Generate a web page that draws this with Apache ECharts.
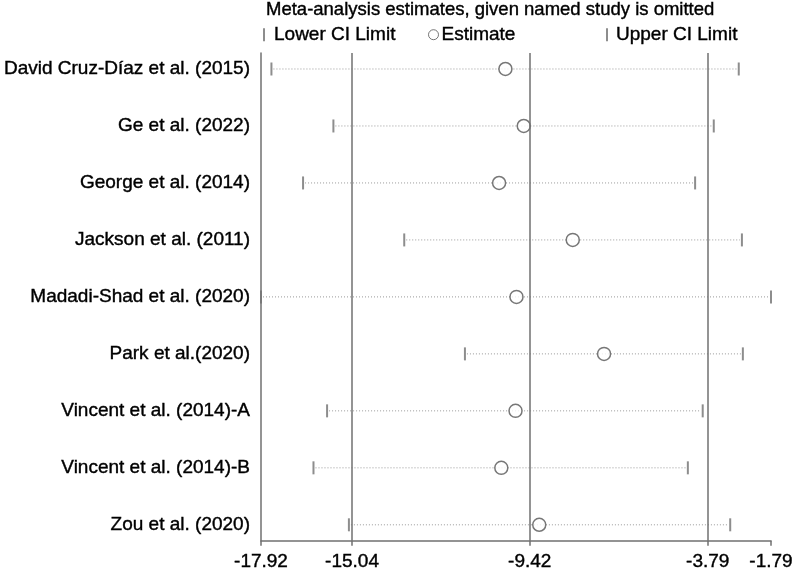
<!DOCTYPE html>
<html><head><meta charset="utf-8">
<script src="https://cdn.jsdelivr.net/npm/echarts@6/dist/echarts.min.js"></script>
<style>html,body{margin:0;padding:0;background:#fff}#c{width:796px;height:571px}</style>
</head><body><div id="c"></div>
<script>
const studies = [
  'David Cruz-Díaz et al. (2015)',
  'Ge et al. (2022)',
  'George et al. (2014)',
  'Jackson et al. (2011)',
  'Madadi-Shad et al. (2020)',
  'Park et al.(2020)',
  'Vincent et al. (2014)-A',
  'Vincent et al. (2014)-B',
  'Zou et al. (2020)'
];
const lowerCI   = [-17.59, -15.63, -16.59, -13.39, -17.92, -11.47, -15.83, -16.26, -15.14];
const estimates = [-10.19,  -9.61, -10.39,  -8.06,  -9.84,  -7.07,  -9.87, -10.32,  -9.12];
const upperCI   = [ -2.81,  -3.60,  -4.19,  -2.71,  -1.79,  -2.68,  -3.95,  -4.42,  -3.08];
const overallLines = [-15.04, -9.42, -3.79];
const xTicks = [-17.92, -15.04, -9.42, -3.79, -1.79];
const titleText = 'Meta-analysis estimates, given named study is omitted';
const legendNames = ['Lower CI Limit', 'Estimate', 'Upper CI Limit'];

const FONT = '"Liberation Sans", Arial, sans-serif';
const GRAY = '#707070';
const pad = 16 / 57;
const rowIdx = studies.map((s, i) => i);

const chart = echarts.init(document.getElementById('c'), null, {renderer: 'canvas'});
const heavy = {textBorderColor: '#000', textBorderWidth: 0.4};
const txt = Object.assign({fontFamily: FONT, fontSize: 19, color: '#000'}, heavy);

chart.setOption({
  animation: false,
  backgroundColor: '#fff',
  title: {text: titleText, left: 266, top: 0, padding: 0,
    textStyle: Object.assign({}, txt, {fontWeight: 'normal', fontSize: 18.5})},
  legend: [
    {data: [legendNames[0]], left: 263, top: 25, padding: 0, icon: 'rect', itemWidth: 2, itemHeight: 13,
     textStyle: Object.assign({}, txt, {padding: [0, 0, 0, 4]}), selectedMode: false},
    {data: [{name: legendNames[1], icon: 'circle', itemStyle: {color: '#fff', borderColor: '#555', borderWidth: 1}}],
     left: 428, top: 25, padding: 0, itemWidth: 10, itemHeight: 10, itemGap: 0,
     textStyle: Object.assign({}, txt, {padding: [0, 0, 0, -2]}), selectedMode: false},
    {data: [legendNames[2]], left: 606, top: 25, padding: 0, icon: 'rect', itemWidth: 2, itemHeight: 13,
     textStyle: Object.assign({}, txt, {padding: [0, 0, 0, 3]}), selectedMode: false}
  ],
  grid: {left: 261, right: 25, top: 53, bottom: 30, containLabel: false},
  xAxis: {
    type: 'value', position: 'bottom', min: xTicks[0], max: xTicks[xTicks.length - 1],
    axisLine: {show: true, onZero: false, lineStyle: {color: GRAY, width: 1.5}},
    axisTick: {show: true, customValues: xTicks, length: 5, lineStyle: {color: GRAY, width: 1.5}},
    axisLabel: Object.assign({show: true, customValues: xTicks, margin: 11, formatter: v => v.toFixed(2),
      fontFamily: FONT, fontSize: 19, color: '#000'}, heavy),
    splitLine: {show: false}
  },
  yAxis: {
    type: 'value', position: 'left', inverse: true, min: -pad, max: studies.length - 1 + pad,
    axisLine: {show: true, onZero: false, lineStyle: {color: GRAY, width: 1.5}},
    axisTick: {show: false},
    axisLabel: Object.assign({show: true, customValues: rowIdx, margin: 11, formatter: v => studies[Math.round(v)],
      fontFamily: FONT, fontSize: 19, color: '#000'}, heavy),
    splitLine: {show: false}
  },
  series: [
    {
      type: 'custom', name: 'CI', clip: false, z: 1,
      data: studies.map((s, i) => [lowerCI[i], i, upperCI[i]]),
      encode: {x: [0, 2], y: 1},
      renderItem: function (params, api) {
        const a = api.coord([api.value(0), api.value(1)]);
        const b = api.coord([api.value(2), api.value(1)]);
        return {type: 'line', shape: {x1: a[0] + 2, y1: a[1], x2: b[0] - 2, y2: b[1]},
          style: {stroke: '#9a9a9a', lineWidth: 1, lineDash: [1, 2]}};
      },
      markLine: {
        silent: true, symbol: 'none', label: {show: false},
        lineStyle: {color: GRAY, width: 1.5, type: 'solid'},
        data: overallLines.map(v => ({xAxis: v}))
      }
    },
    {
      type: 'scatter', name: legendNames[0], clip: false, z: 3,
      symbol: 'rect', symbolSize: [2, 13],
      itemStyle: {color: GRAY},
      data: studies.map((s, i) => [lowerCI[i], i])
    },
    {
      type: 'scatter', name: legendNames[2], clip: false, z: 3,
      symbol: 'rect', symbolSize: [2, 13],
      itemStyle: {color: GRAY},
      data: studies.map((s, i) => [upperCI[i], i])
    },
    {
      type: 'scatter', name: legendNames[1], clip: false, z: 4,
      symbol: 'circle', symbolSize: 13,
      itemStyle: {color: '#fff', borderColor: '#555', borderWidth: 1.5},
      data: studies.map((s, i) => [estimates[i], i])
    }
  ]
});
</script>
</body></html>
